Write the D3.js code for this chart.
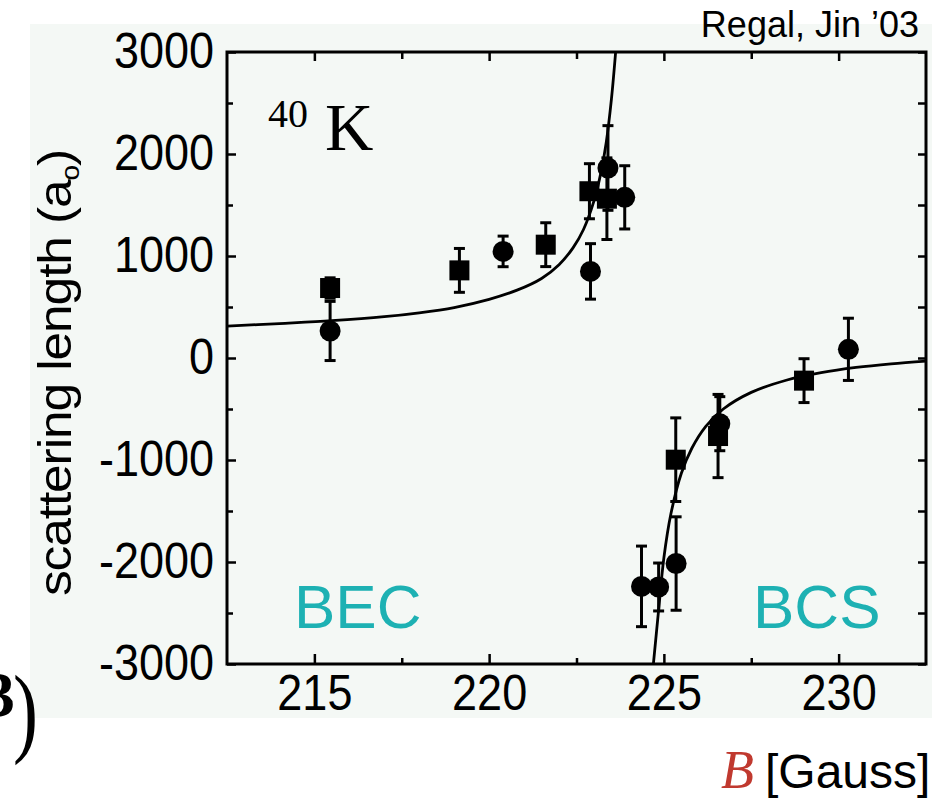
<!DOCTYPE html>
<html>
<head>
<meta charset="utf-8">
<script src="https://cdn.jsdelivr.net/npm/d3@7"></script>
<style>
  body { margin: 0; background: #fff; }
  svg { display: block; }
  .axis line { stroke: #000; stroke-width: 2.5; }
  .axis text { font-family: 'Liberation Sans', Arial, sans-serif; fill: #000; }
  .sans { font-family: 'Liberation Sans', Arial, sans-serif; }
  .serif { font-family: 'Liberation Serif', 'Times New Roman', serif; }
</style>
</head>
<body>
<svg id="chart"></svg>
<script>
// Values (B in gauss, a in units of a0)
const circleB   = [215.45, 220.4, 222.9, 223.4, 223.88, 224.36, 224.85, 225.35, 226.6, 230.28];
const circleA   = [265, 1045, 849, 1863, 1575, -2239, -2245, -2015, -644, 85];
const circleErr = [290, 150, 272, 415, 310, 395, 235, 458, 265, 305];

const squareB   = [215.45, 219.15, 221.62, 222.87, 223.37, 225.34, 226.55, 229.01];
const squareA   = [686, 859, 1111, 1635, 1562, -997, -765, -222];
const squareErr = [100, 215, 215, 270, 400, 410, 408, 215];

// fitted resonance curve
const fitLeftB  = [212.5, 214, 215.5, 217, 218, 219, 220, 220.8, 221.5, 222, 222.4, 222.7, 223, 223.2, 223.35, 223.5, 223.62];
const fitLeftA  = [312, 338, 366, 405, 443, 495, 575, 665, 780, 915, 1080, 1260, 1540, 1820, 2110, 2540, 3000];
const fitRightB = [224.7, 224.85, 225, 225.2, 225.5, 225.8, 226.2, 226.7, 227.5, 228.5, 229.5, 230.5, 231.5, 232.5];
const fitRightA = [-3000, -2470, -1960, -1530, -1130, -885, -670, -500, -337, -218, -144, -93, -57, -30];

const xMajor = [215, 220, 225, 230];
const xMinor = [217.5, 222.5, 227.5];
const yMajor = [-3000, -2000, -1000, 0, 1000, 2000, 3000];
const yMinor = [-2500, -1500, -500, 500, 1500, 2500];

class ResonanceChart {
  constructor(_config) {
    this.config = {
      parentElement: _config.parentElement,
      containerWidth: 944,
      containerHeight: 802,
      margin: {top: 52, right: 18, bottom: 138, left: 227}
    };
    // the scanned panel is a little stretched vertically
    this.stretch = 1.1;
    this.initVis();
  }

  initVis() {
    let vis = this;
    const m = vis.config.margin;
    vis.width = vis.config.containerWidth - m.left - m.right;
    vis.height = vis.config.containerHeight - m.top - m.bottom;

    vis.svg = d3.select(vis.config.parentElement)
        .attr('width', vis.config.containerWidth)
        .attr('height', vis.config.containerHeight);

    // pale backdrop of the scanned figure
    vis.svg.append('rect')
        .attr('x', 30).attr('y', 24)
        .attr('width', 902).attr('height', 694)
        .attr('fill', '#f4f8f5');

    vis.chart = vis.svg.append('g')
        .attr('transform', `translate(${m.left},${m.top})`);

    vis.xScale = d3.scaleLinear().domain([212.5, 232.5]).range([0, vis.width]);
    vis.yScale = d3.scaleLinear().domain([-3000, 3000]).range([vis.height, 0]);

    vis.chart.append('clipPath').attr('id', 'plot-clip')
      .append('rect').attr('width', vis.width).attr('height', vis.height);
  }

  renderVis() {
    let vis = this;
    const x = vis.xScale, y = vis.yScale;
    const fmt = d => String(d);

    // ticks on all four sides, pointing inward
    const axes = [
      {g: `translate(0,${vis.height})`, a: d3.axisBottom(x).tickValues(xMajor).tickSize(-10).tickPadding(10).tickFormat(fmt)},
      {g: `translate(0,${vis.height})`, a: d3.axisBottom(x).tickValues(xMinor).tickSize(-6).tickFormat('')},
      {g: 'translate(0,0)', a: d3.axisTop(x).tickValues(xMajor).tickSize(-9).tickFormat('')},
      {g: 'translate(0,0)', a: d3.axisTop(x).tickValues(xMinor).tickSize(-7).tickFormat('')},
      {g: 'translate(0,0)', a: d3.axisLeft(y).tickValues(yMajor).tickSize(-9).tickPadding(13).tickFormat(fmt)},
      {g: 'translate(0,0)', a: d3.axisLeft(y).tickValues(yMinor).tickSize(-6).tickFormat('')},
      {g: `translate(${vis.width},0)`, a: d3.axisRight(y).tickValues(yMajor).tickSize(-8).tickFormat('')},
      {g: `translate(${vis.width},0)`, a: d3.axisRight(y).tickValues(yMinor).tickSize(-8).tickFormat('')}
    ];
    axes.forEach(ax => {
      vis.chart.append('g')
          .attr('class', 'axis')
          .attr('transform', ax.g)
          .call(ax.a)
          .call(g => g.select('.domain').remove())
          .selectAll('text')
          .attr('font-size', 45)
          .attr('transform', `scale(1,${vis.stretch})`);
    });

    // frame
    vis.chart.append('rect')
        .attr('width', vis.width).attr('height', vis.height)
        .attr('fill', 'none').attr('stroke', '#000').attr('stroke-width', 3);

    // fit curve
    const line = d3.line().x(d => x(d[0])).y(d => y(d[1])).curve(d3.curveCatmullRom);
    [[fitLeftB, fitLeftA], [fitRightB, fitRightA]].forEach(([bs, as]) => {
      vis.chart.append('path')
          .attr('clip-path', 'url(#plot-clip)')
          .attr('d', line(bs.map((b, i) => [b, as[i]])))
          .attr('fill', 'none').attr('stroke', '#000').attr('stroke-width', 2.8);
    });

    const circles = circleB.map((b, i) => ({b, a: circleA[i], e: circleErr[i]}));
    const squares = squareB.map((b, i) => ({b, a: squareA[i], e: squareErr[i]}));
    const all = circles.concat(squares);

    // error bars
    const eb = vis.chart.append('g').attr('stroke', '#000').attr('stroke-width', 3);
    eb.selectAll('.bar').data(all).join('line')
        .attr('class', 'bar')
        .attr('x1', d => x(d.b)).attr('x2', d => x(d.b))
        .attr('y1', d => y(d.a + d.e)).attr('y2', d => y(d.a - d.e));
    ['top', 'bottom'].forEach(side => {
      eb.selectAll('.cap-' + side).data(all).join('line')
          .attr('class', 'cap-' + side)
          .attr('x1', d => x(d.b) - 5.5).attr('x2', d => x(d.b) + 5.5)
          .attr('y1', d => y(side === 'top' ? d.a + d.e : d.a - d.e))
          .attr('y2', d => y(side === 'top' ? d.a + d.e : d.a - d.e));
    });

    vis.chart.selectAll('.sq').data(squares).join('rect')
        .attr('class', 'sq')
        .attr('x', d => x(d.b) - 10).attr('y', d => y(d.a) - 10)
        .attr('width', 20).attr('height', 20)
        .attr('fill', '#000');

    vis.chart.selectAll('.pt').data(circles).join('circle')
        .attr('class', 'pt')
        .attr('cx', d => x(d.b)).attr('cy', d => y(d.a))
        .attr('r', 10.5)
        .attr('fill', '#000');

    // annotations
    const k = vis.svg.append('text').attr('class', 'serif').attr('x', 268).attr('y', 150);
    k.append('tspan').attr('font-size', 40).attr('dy', -23).text('40');
    k.append('tspan').attr('font-size', 67).attr('dy', 23).attr('dx', 17).text('K');

    vis.svg.append('text').attr('class', 'sans')
        .attr('x', 294).attr('y', 628).attr('font-size', 62).attr('fill', '#1db1b3')
        .text('BEC');
    vis.svg.append('text').attr('class', 'sans')
        .attr('x', 753).attr('y', 628).attr('font-size', 62).attr('fill', '#1db1b3')
        .text('BCS');

    vis.svg.append('text').attr('class', 'sans')
        .attr('x', 919).attr('y', 37).attr('font-size', 36).attr('text-anchor', 'end')
        .text('Regal, Jin \u201903');

    const yl = vis.svg.append('text').attr('class', 'sans')
        .attr('transform', `translate(71,373) rotate(-90) scale(${vis.stretch + 0.02},1)`)
        .attr('text-anchor', 'middle').attr('font-size', 46).style('letter-spacing', '-1px');
    yl.append('tspan').text('scattering length (a');
    yl.append('tspan').attr('font-size', 25).attr('dy', 8).text('o');
    yl.append('tspan').attr('dy', -8).text(')');

    const xl = vis.svg.append('text').attr('x', 721).attr('y', 788);
    xl.append('tspan').attr('class', 'serif').attr('font-style', 'italic').attr('font-size', 54)
        .attr('fill', '#c0392f').text('B');
    xl.append('tspan').attr('class', 'sans').attr('font-size', 48).attr('dx', 11).text('[Gauss]');

    // fragment of the neighbouring panel label, cut by the page edge as in the source
    vis.svg.append('text').attr('class', 'serif')
        .attr('x', 15).attr('y', 716).attr('font-size', 64).attr('font-weight', 'bold')
        .attr('text-anchor', 'end').text('3');
    vis.svg.append('text').attr('class', 'serif')
        .attr('transform', 'translate(13,744) scale(0.75,1)')
        .attr('font-size', 100).text(')');
  }
}

const chart = new ResonanceChart({parentElement: '#chart'});
chart.renderVis();
</script>
</body>
</html>
